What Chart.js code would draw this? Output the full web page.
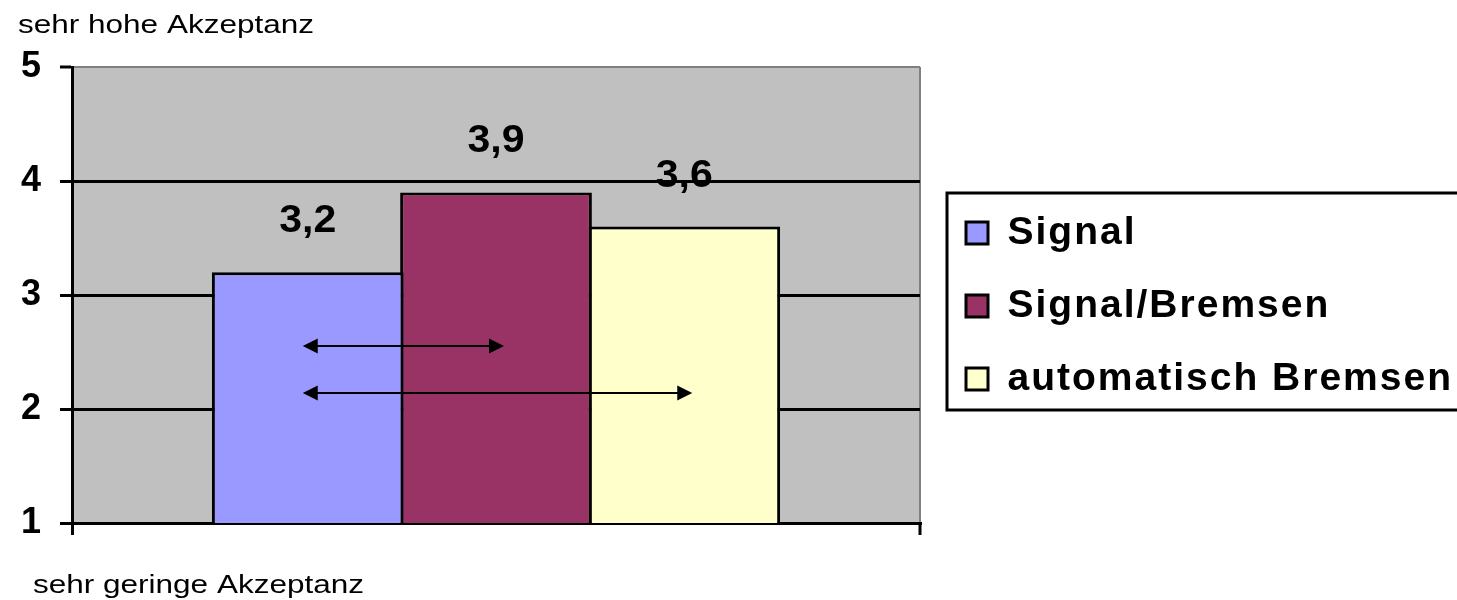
<!DOCTYPE html>
<html><head><meta charset="utf-8">
<script src="https://cdn.jsdelivr.net/npm/chart.js@4"></script>
<style>html,body{margin:0;padding:0;background:#fff;overflow:hidden}</style>
</head><body>
<canvas id="c" width="1457" height="600"></canvas>
<script>
// ---- data ----
const categories = [''];
const seriesNames = ['Signal', 'Signal/Bremsen', 'automatisch Bremsen'];
const signal = [3.2];
const signalBremsen = [3.9];
const automatischBremsen = [3.6];
const yTicks = [1, 2, 3, 4, 5];
const axisTopLabel = 'sehr hohe Akzeptanz';
const axisBottomLabel = 'sehr geringe Akzeptanz';
// comparison arrows: from series index, to series index, height (value on y axis)
const arrowFrom = [0, 0];
const arrowTo = [1, 2];
const arrowValue = [2.55, 2.14];
const seriesColors = ['#9999FF', '#993366', '#FFFFCC'];

const FONT = "'Liberation Sans', Arial, sans-serif";
Chart.defaults.font.family = FONT;
Chart.defaults.color = '#000';

const LEGEND_W = 537;
const LEGEND_SHIFT = 12;
const LEGEND_DOWN = 5;

function stretchText(ctx, text, x, y, sx, font, align) {
  ctx.save();
  ctx.font = font;
  ctx.textAlign = align;
  ctx.textBaseline = 'alphabetic';
  ctx.fillStyle = '#000';
  ctx.translate(x, y);
  ctx.scale(sx, 1);
  ctx.fillText(text, 0, 0);
  ctx.restore();
}

const custom = {
  id: 'custom',
  beforeLayout(chart) {
    const lg = chart.legend;
    if (lg && !lg._fixedW) {
      const origFit = lg.fit;
      lg.fit = function () { origFit.call(this); this.width = LEGEND_W; };
      const origDraw = lg.draw;
      lg.draw = function (area) {
        const c = this.ctx;
        c.save();
        if ('letterSpacing' in c) c.letterSpacing = '2px';
        origDraw.call(this, area);
        c.restore();
      };
      lg._fixedW = true;
    }
  },
  afterLayout(chart) {
    const lg = chart.legend;
    lg.left += LEGEND_SHIFT; lg.right += LEGEND_SHIFT;
    lg.top += LEGEND_DOWN; lg.bottom += LEGEND_DOWN;
  },
  beforeDraw(chart) {
    const { ctx, chartArea: a } = chart;
    ctx.save();
    ctx.fillStyle = '#C0C0C0';
    ctx.fillRect(a.left, a.top, a.right - a.left, a.bottom - a.top);
    ctx.restore();
  },
  afterDatasetsDraw(chart) {
    const ctx = chart.ctx;
    // value labels
    chart.data.datasets.forEach((ds, i) => {
      const bar = chart.getDatasetMeta(i).data[0];
      const txt = ds.data[0].toFixed(1).replace('.', ',');
      stretchText(ctx, txt, bar.x, bar.y - 40, 1.08, 'bold 38px ' + FONT, 'center');
    });
    // arrows
    const ys = chart.scales.y;
    ctx.save();
    ctx.strokeStyle = '#000'; ctx.fillStyle = '#000'; ctx.lineWidth = 2;
    arrowFrom.forEach((f, k) => {
      const b0 = chart.getDatasetMeta(f).data[0];
      const b1 = chart.getDatasetMeta(arrowTo[k]).data[0];
      const x0 = b0.x - 5, x1 = b1.x + 8;
      const y = Math.round(ys.getPixelForValue(arrowValue[k]));
      const L = 15, H = 7.5;
      ctx.beginPath(); ctx.moveTo(x0 + L - 2, y); ctx.lineTo(x1 - L + 2, y); ctx.stroke();
      ctx.beginPath(); ctx.moveTo(x0, y); ctx.lineTo(x0 + L, y - H); ctx.lineTo(x0 + L, y + H); ctx.closePath(); ctx.fill();
      ctx.beginPath(); ctx.moveTo(x1, y); ctx.lineTo(x1 - L, y - H); ctx.lineTo(x1 - L, y + H); ctx.closePath(); ctx.fill();
    });
    ctx.restore();
  },
  afterDraw(chart) {
    const { ctx, chartArea: a } = chart;
    // legend frame
    const lg = chart.legend;
    const pad = lg.options.labels.padding;
    const itemH = Math.max(lg.options.labels.font.size, lg.options.labels.boxHeight);
    const colH = lg.columnSizes[0].height;
    const y0 = (lg.top + pad + lg.bottom - colH) / 2;
    const firstC = y0 + itemH / 2;
    const lastC = firstC + (lg.legendItems.length - 1) * (itemH + pad);
    ctx.save();
    ctx.strokeStyle = '#000'; ctx.lineWidth = 3;
    const fl = lg.left + 15, ft = firstC - 40, fb = lastC + 31;
    ctx.strokeRect(fl, ft, chart.width + 20 - fl, fb - ft);
    ctx.restore();
    // axis end captions
    stretchText(ctx, axisTopLabel, a.left - 54, a.top - 34, 1.26, '25px ' + FONT, 'left');
    stretchText(ctx, axisBottomLabel, a.left - 39, a.bottom + 70, 1.26, '25px ' + FONT, 'left');
  }
};

new Chart(document.getElementById('c'), {
  type: 'bar',
  data: {
    labels: categories,
    datasets: [
      { label: seriesNames[0], data: signal, backgroundColor: seriesColors[0] },
      { label: seriesNames[1], data: signalBremsen, backgroundColor: seriesColors[1] },
      { label: seriesNames[2], data: automatischBremsen, backgroundColor: seriesColors[2] }
    ]
  },
  options: {
    responsive: false,
    animation: false,
    layout: { padding: { top: 67, left: 2, right: 0, bottom: 65 } },
    datasets: { bar: { categoryPercentage: 0.666, barPercentage: 1.0186, borderWidth: 3, borderColor: '#000', borderSkipped: false } },
    scales: {
      x: {
        ticks: { display: false },
        grid: {
          offset: true,
          color: c => c.index === 0 ? '#000' : '#808080',
          lineWidth: c => c.index === 0 ? 3 : 2,
          tickColor: '#000', tickWidth: 3, tickLength: 12
        },
        border: { color: '#000', width: 3 }
      },
      y: {
        min: 1, max: 5,
        afterBuildTicks: s => { s.ticks = yTicks.map(v => ({ value: v })); },
        ticks: { font: { size: 36, weight: 'bold' }, padding: 19, color: '#000' },
        grid: {
          color: c => (c.tick && c.tick.value === 5) ? '#808080' : '#000',
          lineWidth: c => (c.tick && c.tick.value === 5) ? 2 : 3,
          tickColor: '#000', tickWidth: 3, tickLength: 12
        },
        border: { color: '#000', width: 3 }
      }
    },
    plugins: {
      legend: {
        position: 'right', align: 'center',
        labels: { boxWidth: 22, boxHeight: 22, padding: 34, font: { size: 39, weight: 'bold' }, color: '#000' }
      },
      tooltip: { enabled: false }
    }
  },
  plugins: [custom]
});
</script>
</body></html>
